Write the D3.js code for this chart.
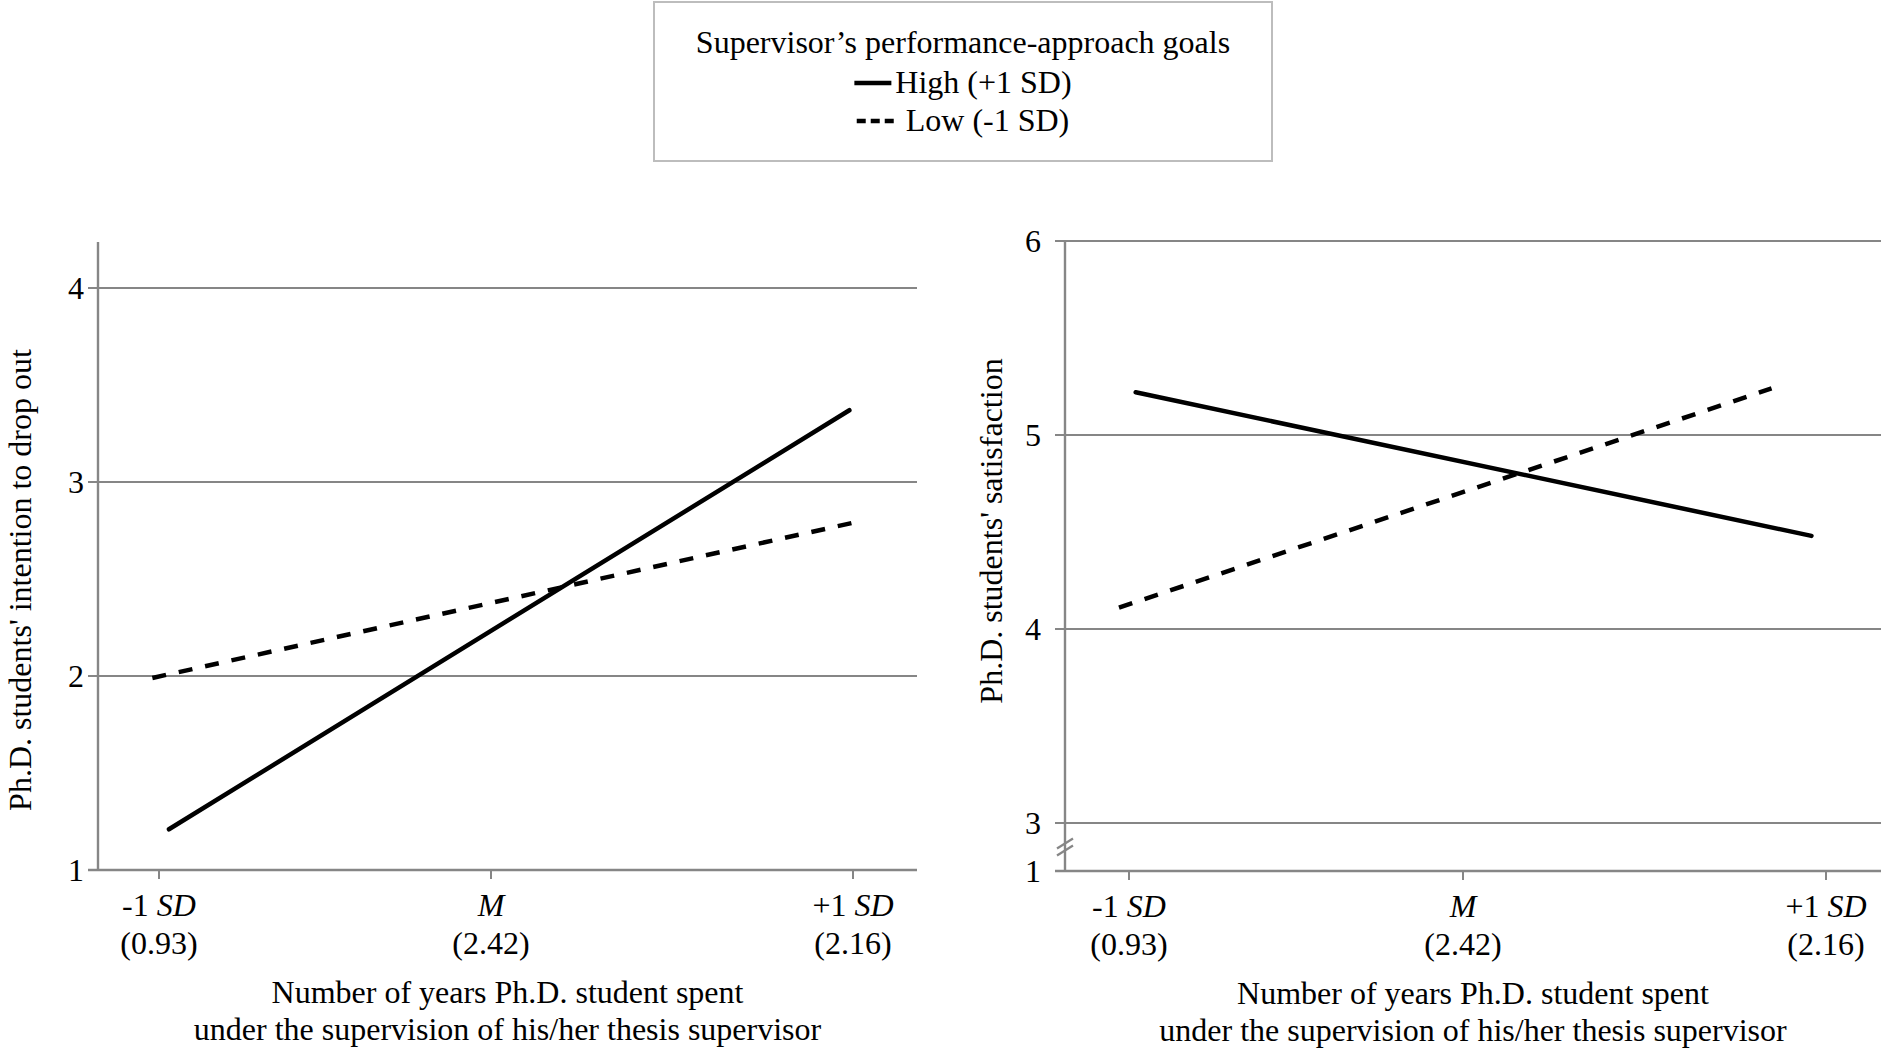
<!DOCTYPE html>
<html>
<head>
<meta charset="utf-8">
<script src="https://cdn.jsdelivr.net/npm/d3@7"></script>
<style>
  html, body { margin: 0; padding: 0; background: #fff; }
  svg { display: block; font-family: "Liberation Serif", "Times New Roman", serif; }
</style>
</head>
<body>
<svg id="chart" width="1881" height="1049"></svg>
<script>
// ---- data ----
const categories = [-1, 0, 1];
const categoryNames = ["-1", "M", "+1"];
const categoryValues = ["(0.93)", "(2.42)", "(2.16)"];
const seriesNames = ["High (+1 SD)", "Low (-1 SD)"];
const legendTitle = "Supervisor\u2019s performance-approach goals";
const xTitle = ["Number of years Ph.D. student spent", "under the supervision of his/her thesis supervisor"];

// left panel: intention to drop out
const leftTicks = [1, 2, 3, 4];
const leftHighX = [-0.97, 0.99];
const leftHighY = [1.21, 3.37];
const leftLowX = [-1.02, 1.0];
const leftLowY = [1.99, 2.79];
const leftTitle = "Ph.D. students' intention to drop out";

// right panel: satisfaction
const rightTicks = [1, 3, 4, 5, 6];
const rightHighX = [-0.98, 0.96];
const rightHighY = [5.22, 4.48];
const rightLowX = [-1.03, 0.85];
const rightLowY = [4.11, 5.24];
const rightTitle = "Ph.D. students' satisfaction";

// ---- drawing ----
const svg = d3.select("#chart");
const gray = "#868686";
const FS = 32;

function panel(opts) {
  const g = svg.append("g");
  const x = d3.scaleLinear().domain(categories).range(opts.xRange);
  const y = d3.scaleLinear().domain(opts.yDomain).range(opts.yRange);
  const ax = opts.axisX, right = opts.right;
  const y0 = y(opts.yDomain[0]);

  // gridlines
  g.selectAll(".grid").data(opts.grid).join("line")
    .attr("x1", ax - 10).attr("x2", right)
    .attr("y1", d => y(d)).attr("y2", d => y(d))
    .attr("stroke", gray).attr("stroke-width", 2.2);

  // x axis line
  g.append("line").attr("x1", ax - 10).attr("x2", right)
    .attr("y1", y0).attr("y2", y0)
    .attr("stroke", gray).attr("stroke-width", 2.4);
  // y axis line
  g.append("line").attr("x1", ax).attr("x2", ax)
    .attr("y1", y0).attr("y2", opts.yTop)
    .attr("stroke", gray).attr("stroke-width", 2.4);

  // axis break
  if (opts.brk) {
    const by = (y(1) + y(3)) / 2;
    [-3.5, 3.5].forEach(o => {
      g.append("line")
        .attr("x1", ax - 8).attr("y1", by + o + 5)
        .attr("x2", ax + 8).attr("y2", by + o - 5)
        .attr("stroke", gray).attr("stroke-width", 2.2);
    });
  }

  // y tick labels
  g.selectAll(".ytl").data(opts.ticks).join("text")
    .attr("x", ax - opts.labelGap).attr("y", d => y(d))
    .attr("dy", "0.33em")
    .attr("text-anchor", "end").attr("font-size", FS).attr("fill", "#000")
    .text(d => d);

  // x ticks
  g.selectAll(".xt").data(categories).join("line")
    .attr("x1", d => x(d)).attr("x2", d => x(d))
    .attr("y1", y0).attr("y2", y0 + 9)
    .attr("stroke", gray).attr("stroke-width", 2);

  const xl = g.selectAll(".xtl").data(categories).join("text")
    .attr("x", d => x(d)).attr("y", y0 + 46)
    .attr("text-anchor", "middle").attr("font-size", FS);
  xl.each(function(d, i) {
    const t = d3.select(this);
    if (categoryNames[i] === "M") {
      t.append("tspan").attr("font-style", "italic").text("M");
    } else {
      t.append("tspan").text(categoryNames[i] + " ");
      t.append("tspan").attr("font-style", "italic").text("SD");
    }
  });
  g.selectAll(".xtv").data(categories).join("text")
    .attr("x", d => x(d)).attr("y", y0 + 84)
    .attr("text-anchor", "middle").attr("font-size", FS)
    .text((d, i) => categoryValues[i]);

  // x title
  const cx = (ax + right) / 2;
  xTitle.forEach((t, i) => {
    g.append("text").attr("x", cx).attr("y", y0 + 133 + i * 37)
      .attr("text-anchor", "middle").attr("font-size", FS).text(t);
  });

  // y title
  g.append("text")
    .attr("transform", `translate(${opts.yTitleX},${opts.yTitleY}) rotate(-90)`)
    .attr("text-anchor", "middle").attr("font-size", FS)
    .text(opts.yTitle);

  // data lines
  const line = d3.line().x(d => x(d[0])).y(d => y(d[1]));
  g.append("path").datum(d3.zip(opts.highX, opts.highY))
    .attr("d", line).attr("fill", "none").attr("stroke", "#000")
    .attr("stroke-width", 4.5).attr("stroke-linecap", "round");
  g.append("path").datum(d3.zip(opts.lowX, opts.lowY))
    .attr("d", line).attr("fill", "none").attr("stroke", "#000")
    .attr("stroke-width", 4.5).attr("stroke-dasharray", "14,13");
}

panel({
  xRange: [159, 491, 853], yDomain: [1, 4], yRange: [870, 288],
  axisX: 98, right: 917, yTop: 242, grid: [2, 3, 4], ticks: leftTicks,
  labelGap: 14, yTitle: leftTitle, yTitleX: 31, yTitleY: 580,
  highX: leftHighX, highY: leftHighY, lowX: leftLowX, lowY: leftLowY, brk: false
});

panel({
  xRange: [1129, 1463, 1826], yDomain: [1, 3, 6], yRange: [871, 823, 241],
  axisX: 1065, right: 1881, yTop: 241, grid: [3, 4, 5, 6], ticks: rightTicks,
  labelGap: 24, yTitle: rightTitle, yTitleX: 1002, yTitleY: 531,
  highX: rightHighX, highY: rightHighY, lowX: rightLowX, lowY: rightLowY, brk: true
});

// ---- legend ----
const lg = svg.append("g");
lg.append("rect").attr("x", 654).attr("y", 2).attr("width", 618).attr("height", 159)
  .attr("fill", "#fff").attr("stroke", "#bdbdbd").attr("stroke-width", 2);
lg.append("text").attr("x", 963).attr("y", 53).attr("text-anchor", "middle")
  .attr("font-size", FS).text(legendTitle);

const items = lg.selectAll(".li").data(seriesNames).join("g")
  .attr("transform", (d, i) => `translate(0,${83 + i * 38})`);
items.each(function(d, i) {
  const it = d3.select(this);
  const txt = it.append("text").attr("y", 10).attr("font-size", FS).text(d);
  const w = txt.node().getComputedTextLength();
  const sw = 37, gap = i === 0 ? 4 : 12;
  const total = sw + gap + w;
  const x0 = 963 - total / 2;
  it.append("line").attr("x1", x0).attr("x2", x0 + sw).attr("y1", 0).attr("y2", 0)
    .attr("stroke", "#000").attr("stroke-width", 4.5)
    .attr("stroke-dasharray", i === 0 ? null : "9,5");
  txt.attr("x", x0 + sw + gap);
});
</script>
</body>
</html>
